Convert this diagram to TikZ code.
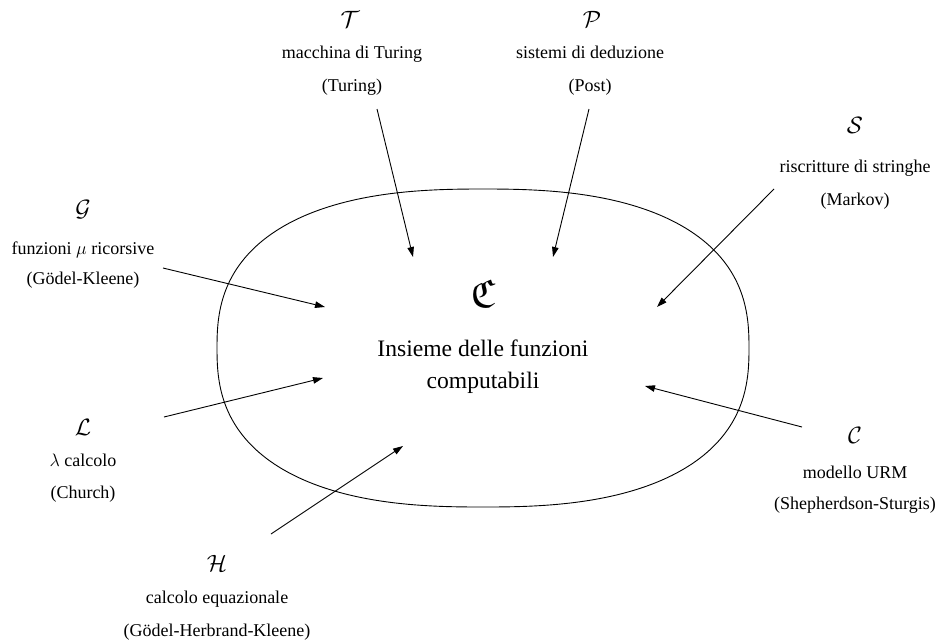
\RequirePackage{fix-cm}
\documentclass[tikz,border=0pt]{standalone}
\usepackage{amsmath,amssymb}
\usepackage{fontspec}
\setmainfont{Liberation Serif}
\usetikzlibrary{arrows.meta}
\tikzset{
  lbl/.style={font=\fontsize{18}{22}\selectfont, anchor=base, inner sep=0pt},
  sym/.style={font=\fontsize{23.6}{28}\selectfont, anchor=base, inner sep=0pt},
  big/.style={font=\fontsize{23.6}{28}\selectfont, anchor=base, inner sep=0pt},
  frak/.style={font=\fontsize{40}{44}\selectfont, anchor=base, inner sep=0pt},
  arr/.style={-{Triangle[length=10pt,width=6.5pt]}, line width=0.9pt},
  blob/.style={line width=0.9pt}
}
\begin{document}
\begin{tikzpicture}[x=1pt,y=-1pt]
\useasboundingbox (0,0) rectangle (939,641);
% set of computable functions
\draw[blob, variable=\t, domain=0.5:359.5, samples=360]
  plot ({483+266*cos(\t)*abs(cos(\t))^(-0.2)}, {348+159*sin(\t)*abs(sin(\t))^(-0.2)}) -- cycle;
\node[frak] (frakC) at (483,307) {$\mathfrak{C}$};
\node[big] (ins1) at (483,356) {Insieme delle funzioni};
\node[big] (ins2) at (483,388) {computabili};
% T
\node[sym] (T) at (350,27) {$\mathcal{T}$};
\node[lbl] (T1) at (352,58) {macchina di Turing};
\node[lbl] (T2) at (352,91) {(Turing)};
% P
\node[sym] (P) at (592,27) {$\mathcal{P}$};
\node[lbl] (P1) at (590,58) {sistemi di deduzione};
\node[lbl] (P2) at (590,91) {(Post)};
% S
\node[sym] (S) at (855,133) {$\mathcal{S}$};
\node[lbl] (S1) at (855,172) {riscritture di stringhe};
\node[lbl] (S2) at (855,205) {(Markov)};
% G
\node[sym] (G) at (83,216) {$\mathcal{G}$};
\node[lbl] (G1) at (83,254) {funzioni $\mu$ ricorsive};
\node[lbl] (G2) at (83,284) {(Gödel-Kleene)};
% L
\node[sym] (L) at (83,435) {$\mathcal{L}$};
\node[lbl] (L1) at (83,466) {$\lambda$ calcolo};
\node[lbl] (L2) at (83,498) {(Church)};
% C
\node[sym] (C) at (855,443) {$\mathcal{C}$};
\node[lbl] (C1) at (855,478) {modello URM};
\node[lbl] (C2) at (855,509) {(Shepherdson-Sturgis)};
% H
\node[sym] (H) at (217,571) {$\mathcal{H}$};
\node[lbl] (H1) at (217,603) {calcolo equazionale};
\node[lbl] (H2) at (217,636) {(Gödel-Herbrand-Kleene)};
% arrow ends
\coordinate (Ts) at (377,109); \coordinate (Te) at (413,257);
\coordinate (Ps) at (589,109); \coordinate (Pe) at (553,257);
\coordinate (Ss) at (774,189); \coordinate (Se) at (657,307);
\coordinate (Gs) at (163,268); \coordinate (Ge) at (325,307);
\coordinate (Ls) at (164,417); \coordinate (Le) at (323,378);
\coordinate (Cs) at (802,427); \coordinate (Ce) at (645,386);
\coordinate (Hs) at (271,534); \coordinate (He) at (403,446);
\draw[arr] (Ts) -- (Te);
\draw[arr] (Ps) -- (Pe);
\draw[arr] (Ss) -- (Se);
\draw[arr] (Gs) -- (Ge);
\draw[arr] (Ls) -- (Le);
\draw[arr] (Cs) -- (Ce);
\draw[arr] (Hs) -- (He);
\end{tikzpicture}
\end{document}
